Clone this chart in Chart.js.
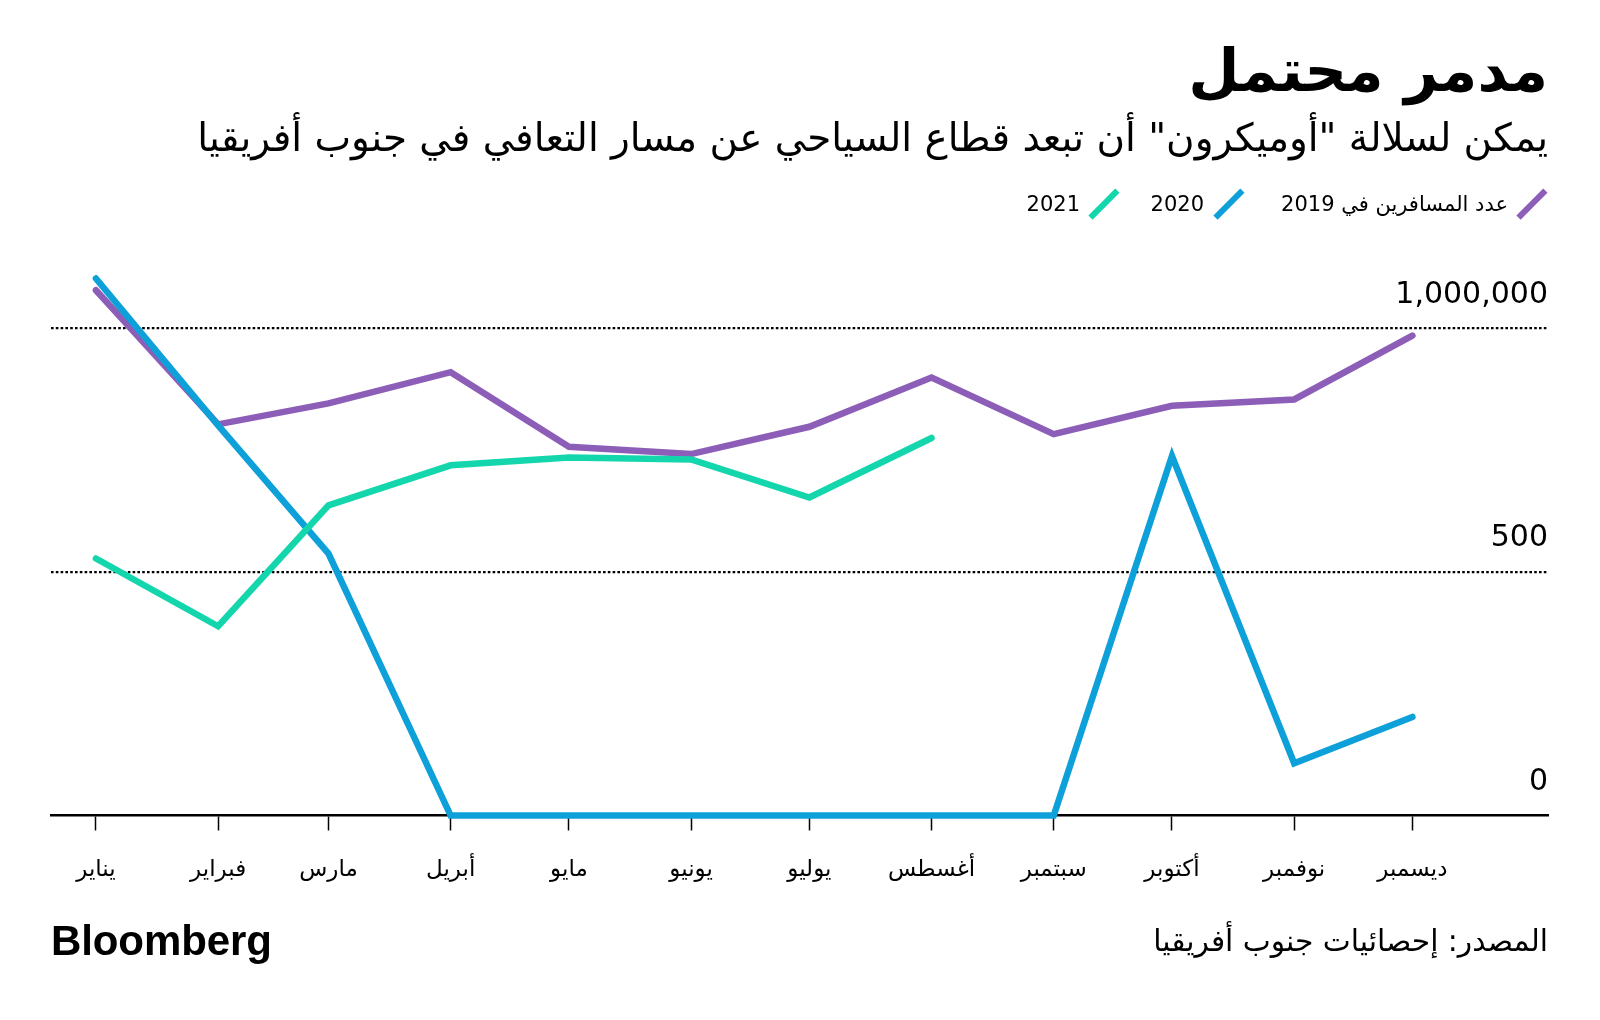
<!DOCTYPE html>
<html lang="ar">
<head>
<meta charset="utf-8">
<script src="https://cdn.jsdelivr.net/npm/chart.js@4.4.1/dist/chart.umd.min.js"></script>
<style>
  html, body { margin: 0; padding: 0; background: #fff; }
  #wrap { position: relative; width: 1600px; height: 1020px; overflow: hidden; background: #fff; }
  #chart { position: absolute; left: 0; top: 0; }
  .txt { position: absolute; white-space: nowrap; color: #000; font-family: "DejaVu Sans", sans-serif; }
  #title { right: 52px; top: 31px; font-size: 59px; font-weight: bold; line-height: 80px; direction: rtl; }
  #subtitle { right: 52px; top: 113px; font-size: 38.9px; line-height: 50px; direction: rtl; }
  .leg { top: 191px; font-size: 21px; line-height: 26px; }
  .slash { position: absolute; width: 5.5px; height: 38px; transform: rotate(45deg); }
  #brand { left: 51px; top: 916px; font-family: "Liberation Sans", Arial, sans-serif; font-weight: bold; font-size: 42px; line-height: 50px; letter-spacing: -0.1px; }
  #source { right: 52px; top: 921px; font-size: 29.7px; line-height: 40px; direction: rtl; }
</style>
</head>
<body>
<div id="wrap">
  <canvas id="chart" width="1600" height="1020"></canvas>
  <div id="title" class="txt">مدمر محتمل</div>
  <div id="subtitle" class="txt">يمكن لسلالة "أوميكرون" أن تبعد قطاع السياحي عن مسار التعافي في جنوب أفريقيا</div>
  <div id="legend"></div>
  <div id="brand" class="txt">Bloomberg</div>
  <div id="source" class="txt">المصدر: إحصائيات جنوب أفريقيا</div>
</div>
<script>
// ---- data ----
const monthLabels = ['يناير', 'فبراير', 'مارس', 'أبريل', 'مايو', 'يونيو', 'يوليو', 'أغسطس', 'سبتمبر', 'أكتوبر', 'نوفمبر', 'ديسمبر'];
const monthDays = [0, 31, 59, 90, 120, 151, 181, 212, 243, 273, 304, 334];
const seriesNames = ['عدد المسافرين في 2019', '2020', '2021'];
const values2019 = [1077, 802, 845, 909, 756, 741, 797, 898, 782, 840, 853, 984];
const values2020 = [1101, 800, 537, 0, 0, 0, 0, 0, 0, 737, 107, 202];
const values2021 = [527, 388, 636, 718, 734, 730, 652, 774];
const yTickValues = [0, 500, 1000];
const yTickLabels = ['0', '500', '1,000,000'];

const colors = ['#8c5eb8', '#0ea0d8', '#14d6ad'];

// ---- legend (HTML) ----
const legendLayout = [
  { slashX: 1532, textRight: 1508 },
  { slashX: 1229, textRight: 1204 },
  { slashX: 1104, textRight: 1080 }
];
const legendEl = document.getElementById('legend');
seriesNames.forEach((name, i) => {
  const s = document.createElement('div');
  s.className = 'slash';
  s.style.background = colors[i];
  s.style.left = (legendLayout[i].slashX - 2.75) + 'px';
  s.style.top = (204 - 19) + 'px';
  legendEl.appendChild(s);
  const t = document.createElement('div');
  t.className = 'txt leg';
  t.style.right = (1600 - legendLayout[i].textRight) + 'px';
  t.style.direction = 'rtl';
  t.textContent = name;
  legendEl.appendChild(t);
});

const toPoints = (vals) => vals.map((v, i) => ({ x: monthDays[i], y: v }));

const ds = (label, vals, color, order) => ({
  label, data: toPoints(vals), borderColor: color, backgroundColor: color,
  borderWidth: 6.5, pointRadius: 0, pointHoverRadius: 0, tension: 0,
  borderCapStyle: 'round', borderJoinStyle: 'miter', clip: false, order
});

new Chart(document.getElementById('chart'), {
  type: 'line',
  data: {
    datasets: [
      ds(seriesNames[0], values2019, colors[0], 3),
      ds(seriesNames[1], values2020, colors[1], 2),
      ds(seriesNames[2], values2021, colors[2], 1)
    ]
  },
  options: {
    responsive: false,
    animation: false,
    events: [],
    layout: { padding: { left: 51, right: 52, top: 279, bottom: 0 } },
    plugins: { legend: { display: false }, tooltip: { enabled: false }, title: { display: false } },
    scales: {
      x: {
        type: 'linear',
        min: -11.4,
        max: 368.4,
        afterBuildTicks: (scale) => { scale.ticks = monthDays.map(v => ({ value: v })); },
        afterFit: (scale) => { scale.height = 204.5; },
        ticks: {
          autoSkip: false, maxRotation: 0, minRotation: 0,
          padding: 26,
          color: '#000',
          font: { family: '"DejaVu Sans", sans-serif', size: 23 },
          callback: (value) => monthLabels[monthDays.indexOf(value)]
        },
        grid: { display: true, drawOnChartArea: false, drawTicks: true, tickLength: 15, tickWidth: 1.5, tickColor: '#000' },
        border: { display: true, color: '#000', width: 2.5 }
      },
      y: {
        type: 'linear',
        position: 'right',
        min: 0,
        max: 1100,
        afterBuildTicks: (scale) => { scale.ticks = yTickValues.map(v => ({ value: v })); },
        afterFit: (scale) => { scale.width = 0; },
        ticks: {
          mirror: true,
          padding: 0,
          labelOffset: -33,
          color: '#000',
          font: { family: '"DejaVu Sans", sans-serif', size: 30 },
          callback: (value) => yTickLabels[yTickValues.indexOf(value)]
        },
        grid: {
          drawTicks: false,
          lineWidth: 2.2,
          color: (ctx) => (ctx.tick && ctx.tick.value === 0) ? 'rgba(0,0,0,0)' : '#000'
        },
        border: { display: false, dash: [2.6, 2.2] }
      }
    }
  }
});
</script>
</body>
</html>
